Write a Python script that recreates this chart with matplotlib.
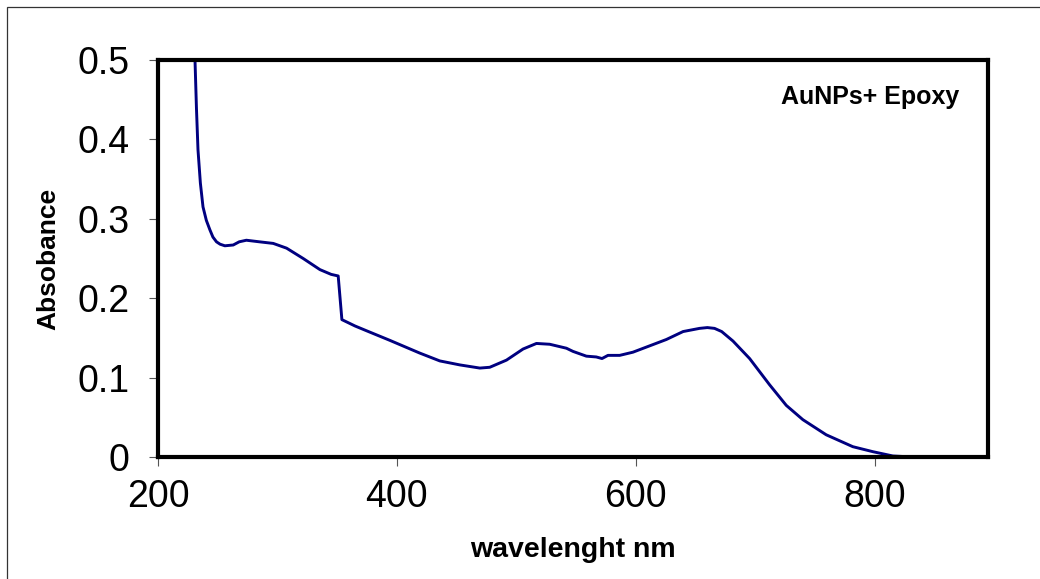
import matplotlib
matplotlib.use("Agg")
import matplotlib.pyplot as plt
from matplotlib.patches import Rectangle

plt.rcParams['font.family'] = ['Liberation Sans', 'DejaVu Sans']

# UV-Vis spectrum
wavelength = [229, 231, 232.2, 233.5, 235.5, 237.7, 240.5, 243.5, 246, 249, 252,
              256, 263, 268, 274, 285, 296.5, 307.7, 321.6, 335.6, 345, 350.9,
              354, 365, 374.6, 394, 419, 436, 452.7, 469.5, 477.8, 491.8, 505.7,
              516.9, 528, 542, 547.5, 558.7, 567, 571.8, 576.8, 586.6, 597.7,
              611.7, 625.7, 639.7, 653.5, 660, 666, 672, 681.5, 695.4, 712.1,
              726.1, 740, 759.5, 781.8, 798.6, 815.3, 832, 850]
absorbance = [0.60, 0.50, 0.44, 0.387, 0.345, 0.315, 0.298, 0.286, 0.277, 0.271,
              0.268, 0.266, 0.267, 0.271, 0.273, 0.271, 0.269, 0.263, 0.250,
              0.236, 0.230, 0.228, 0.173, 0.165, 0.159, 0.147, 0.131, 0.121,
              0.116, 0.112, 0.113, 0.122, 0.136, 0.143, 0.142, 0.137, 0.133,
              0.127, 0.126, 0.124, 0.128, 0.128, 0.132, 0.140, 0.148, 0.158,
              0.162, 0.163, 0.162, 0.158, 0.146, 0.124, 0.091, 0.065, 0.047,
              0.028, 0.013, 0.0067, 0.0013, 0.0, -0.001]
x_ticks = [200, 400, 600, 800]
y_ticks = [0, 0.1, 0.2, 0.3, 0.4, 0.5]
y_labels = ['0', '0.1', '0.2', '0.3', '0.4', '0.5']

fig = plt.figure(figsize=(10.4, 5.79), dpi=100)
ax = fig.add_axes([0.1519, 0.2107, 0.7981, 0.6857])

ax.plot(wavelength, absorbance, color='#000080', lw=2.1)
ax.set_xlim(200, 895)
ax.set_ylim(0, 0.5)
ax.set_xticks(x_ticks)
ax.set_yticks(y_ticks)
ax.set_yticklabels(y_labels)

for s in ax.spines.values():
    s.set_linewidth(3)
    s.set_color('black')
ax.tick_params(axis='both', direction='out', length=6.5, width=0.8,
               color='#555555', labelsize=27)
ax.tick_params(axis='x', pad=9)
ax.tick_params(axis='y', pad=14)

ax.set_xlabel('wavelenght nm', fontsize=20.5, fontweight='bold', labelpad=16)
ax.set_ylabel('Absobance', fontsize=19, fontweight='bold')
ax.yaxis.set_label_coords(-0.118, 0.5)

ax.text(0.965, 0.908, 'AuNPs+ Epoxy', transform=ax.transAxes, ha='right',
        va='center', fontsize=18, fontweight='bold')

# thin outer frame of the chart area
fig.patches.append(Rectangle((7 / 1040, -0.05), 1.2, 1 - 7 / 579 + 0.05,
                             transform=fig.transFigure, fill=False,
                             edgecolor='#333333', lw=0.9))

fig.savefig('out.png', dpi=100)
